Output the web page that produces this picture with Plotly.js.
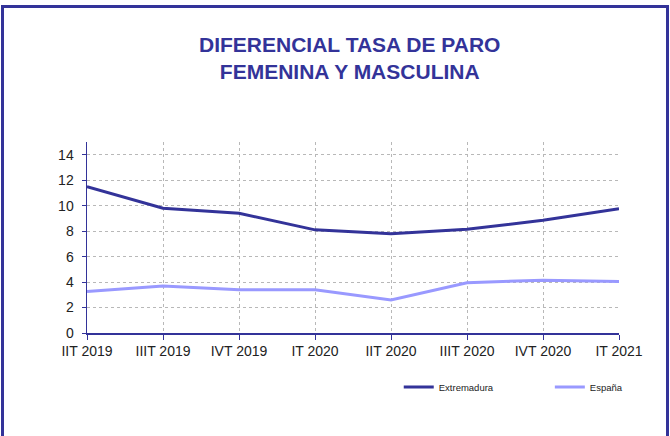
<!DOCTYPE html>
<html>
<head>
<meta charset="utf-8">
<script src="https://cdn.plot.ly/plotly-3.0.1.min.js"></script>
<style>
html,body{margin:0;padding:0;background:#fff;overflow:hidden;}
#frame{position:absolute;left:1px;top:5px;width:668px;height:440px;border:3px solid #333399;box-sizing:border-box;pointer-events:none;z-index:5;}
#chart{position:absolute;left:0;top:0;width:670px;height:436px;}
</style>
</head>
<body>
<div id="chart"></div>
<div id="frame"></div>
<script>
const categories = ["IIT 2019","IIIT 2019","IVT 2019","IT 2020","IIT 2020","IIIT 2020","IVT 2020","IT 2021"];
const extremadura = [11.5, 9.8, 9.4, 8.1, 7.8, 8.15, 8.85, 9.75];
const espana = [3.25, 3.7, 3.4, 3.4, 2.6, 3.95, 4.15, 4.05];

const FONT = "Liberation Sans, Arial, sans-serif";

const traces = [
  {x: categories, y: extremadura, xaxis: "x2", type: "scatter", mode: "none",
   showlegend: false, hoverinfo: "skip"},
  {x: categories, y: extremadura, name: "Extremadura", type: "scatter", mode: "lines",
   line: {color: "#333399", width: 3}, legend: "legend"},
  {x: categories, y: espana, name: "España", type: "scatter", mode: "lines",
   line: {color: "#9999FF", width: 3}, legend: "legend2"}
];

const legendBase = {orientation: "h", xanchor: "left", y: -0.283, yanchor: "middle",
  font: {family: FONT, size: 9.5, color: "#222"}, bgcolor: "rgba(0,0,0,0)", borderwidth: 0};

const layout = {
  width: 670, height: 436,
  margin: {l: 87, r: 51, t: 142, b: 103},
  paper_bgcolor: "#fff", plot_bgcolor: "#fff",
  font: {family: FONT, color: "#222", size: 14},
  title: {text: "DIFERENCIAL TASA DE PARO<br>FEMENINA Y MASCULINA", x: 0.522, xref: "container",
          y: 0.881, yref: "container", yanchor: "middle",
          font: {family: FONT, size: 21, color: "#333399", weight: "bold"}},
  xaxis: {type: "category", categoryarray: categories, range: [0, 7], showline: true, linecolor: "#333399", linewidth: 1.5,
          ticks: "outside", ticklen: 5, tickcolor: "#333399", showgrid: false, zeroline: false,
          tickfont: {family: FONT, size: 14, color: "#222"}, fixedrange: true},
  xaxis2: {type: "category", categoryarray: categories, overlaying: "x", range: [0, 7],
           tickvals: categories.slice(1, 7), showticklabels: false, ticks: "", showline: false,
           showgrid: true, gridcolor: "#b8b8b8", griddash: "dot", gridwidth: 1, zeroline: false, fixedrange: true},
  yaxis: {range: [0, 15], dtick: 2, tick0: 0, showline: true, linecolor: "#333399", linewidth: 1.5,
          ticks: "outside", ticklen: 4, tickcolor: "#333399", showgrid: true, gridcolor: "#b8b8b8",
          griddash: "dot", gridwidth: 1, zeroline: false, ticklabelstandoff: 5,
          tickfont: {family: FONT, size: 14, color: "#222"}, fixedrange: true},
  showlegend: true,
  legend: Object.assign({}, legendBase, {x: 0.586}),
  legend2: Object.assign({}, legendBase, {x: 0.870})
};

Plotly.newPlot("chart", traces, layout, {displayModeBar: false, staticPlot: true});
</script>
</body>
</html>
